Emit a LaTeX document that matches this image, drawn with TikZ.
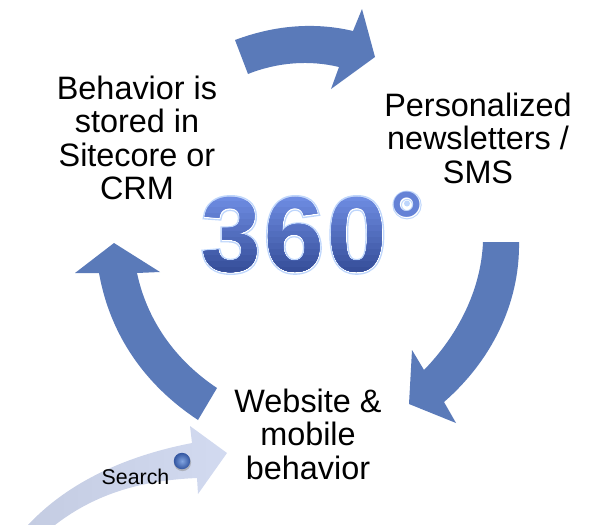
\documentclass[tikz,border=0pt]{standalone}
\usepackage{fontspec}
\setmainfont{Liberation Sans}
\newfontfamily\digitfont[LetterSpace=3.5]{Liberation Sans Bold}
\newfontfamily\digitglow[FakeBold=4,LetterSpace=3.5]{Liberation Sans Bold}
\newfontfamily\digitrim[FakeBold=1.4,LetterSpace=3.5]{Liberation Sans Bold}
\definecolor{cyclearrow}{RGB}{90,122,185}
\definecolor{glowblue}{RGB}{190,214,252}
\definecolor{gradtop}{RGB}{110,140,226}
\definecolor{gradbot}{RGB}{50,74,148}
\definecolor{searchleft}{RGB}{196,204,226}
\definecolor{searchright}{RGB}{210,218,240}
\definecolor{balllight}{RGB}{130,165,225}
\definecolor{balldark}{RGB}{50,85,160}
\tikzset{
  cyclearrow/.style={fill=cyclearrow,draw=none},
  steplabel/.style={text=black,align=center,font=\fontsize{24.3}{25.1}\selectfont,inner sep=0pt},
  bignum/.style={inner sep=0pt},
  degsign/.style={inner sep=0pt}
}
\begin{document}
\begin{tikzpicture}[x=0.75pt,y=-0.75pt]
\useasboundingbox (0,0) rectangle (600,525);
% cycle arrows
\fill[cyclearrow] (235,40) .. controls (275,25) and (315,22) .. (353,31) -- (362,9) -- (375,57) -- (331,89) -- (339,67) .. controls (310,60) and (278,62) .. (248,74) -- cycle;
\fill[cyclearrow] (483,242) .. controls (481,290) and (458,335) .. (424,370) -- (412,350) -- (409,404) -- (456,423) -- (444,402) .. controls (490,362) and (520,305) .. (519,242) -- cycle;
\fill[cyclearrow] (217,388) .. controls (175,360) and (147,320) .. (137,273) -- (160,272) -- (114,243) -- (75,273) -- (99,273) .. controls (110,335) and (145,385) .. (198,420) -- cycle;
% search arrow
\begin{scope}
\clip (0,0) rectangle (600,525);
\shade[left color=searchleft,right color=searchright]
  (28,525) .. controls (70,480) and (130,455) .. (192,443) -- (190,426) -- (227,453) -- (198,494) -- (197,478) .. controls (150,480) and (100,490) .. (55,525) -- cycle;
\end{scope}
\fill[black!45,opacity=.5] (182.5,462.5) circle (8.6);
\shade[inner color=balllight,outer color=balldark] (182,461) circle (8.2);
% 360
\node[bignum,text=glowblue] (numglow) at (294,235) {\digitglow\fontsize{80}{80}\selectfont 360};
\node[bignum,text=white] (numrim) at (294,235) {\digitrim\fontsize{80}{80}\selectfont 360};
\foreach \i in {0,...,13}{
  \pgfmathsetmacro{\ytop}{195+6*\i}
  \pgfmathsetmacro{\mixp}{100*\i/13}
  \begin{scope}
    \clip (190,\ytop) rectangle (395,285);
    \node[bignum,text=gradbot!\mixp!gradtop] (num\i) at (294,235) {\digitfont\fontsize{80}{80}\selectfont 360};
  \end{scope}
}
\node[degsign,text=glowblue] (degglow) at (407,221) {\digitglow\fontsize{62}{62}\selectfont °};
\node[degsign,text=white] (degrim) at (407,221) {\digitrim\fontsize{62}{62}\selectfont °};
\node[degsign,text=gradtop!85!gradbot] (deg) at (407,221) {\digitfont\fontsize{62}{62}\selectfont °};
\fill[glowblue] (deg.center) ++(0,-17.5) circle (3);
% labels
\node[steplabel] (stored) at (137,138) {Behavior is\\stored in\\Sitecore or\\CRM};
\node[steplabel] (news) at (478,138) {Personalized\\newsletters /\\SMS};
\node[steplabel] (web) at (308,434) {Website \&\\mobile\\behavior};
\node[text=black,inner sep=0pt,font=\fontsize{16}{18}\selectfont] (search) at (135.5,477) {Search};
\end{tikzpicture}
\end{document}
